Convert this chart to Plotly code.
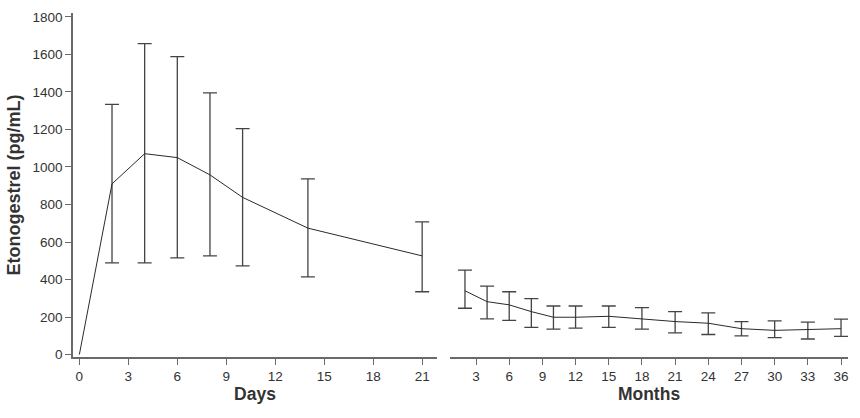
import plotly.graph_objects as go

# Days panel
days = [0, 2, 4, 6, 8, 10, 14, 21]
days_mean = [0, 910, 1071, 1050, 958, 838, 674, 526]
days_upper = [None, 1334, 1658, 1588, 1395, 1205, 937, 707]
days_lower = [None, 489, 489, 515, 526, 473, 414, 335]

# Months panel
months = [2, 4, 6, 8, 10, 12, 15, 18, 21, 24, 27, 30, 33, 36]
months_mean = [340, 282, 265, 229, 199, 199, 204, 190, 176, 167, 138, 129, 132, 138]
months_upper = [450, 365, 335, 298, 259, 259, 259, 250, 229, 222, 176, 180, 173, 189]
months_lower = [247, 190, 182, 145, 136, 141, 145, 136, 116, 107, 100, 90, 83, 97]

y_ticks = [0, 200, 400, 600, 800, 1000, 1200, 1400, 1600, 1800]
day_ticks = [0, 3, 6, 9, 12, 15, 18, 21]
month_ticks = [3, 6, 9, 12, 15, 18, 21, 24, 27, 30, 33, 36]

line_col = "#2a2a2a"
err_col = "#444444"
axis_col = "#6a6a6a"
text_col = "#333333"
font_family = "Liberation Sans, Arial, sans-serif"


def err_trace(xs, mean, up, lo, xaxis):
    pts = [(x, m, u, l) for x, m, u, l in zip(xs, mean, up, lo) if u is not None]
    return go.Scatter(
        x=[p[0] for p in pts], y=[p[1] for p in pts], mode="markers",
        marker=dict(size=1, color="rgba(0,0,0,0)"),
        error_y=dict(type="data", symmetric=False,
                     array=[p[2] - p[1] for p in pts],
                     arrayminus=[p[1] - p[3] for p in pts],
                     color=err_col, thickness=1.3, width=7),
        xaxis=xaxis, yaxis="y", showlegend=False, hoverinfo="skip")


fig = go.Figure()
fig.add_trace(err_trace(days, days_mean, days_upper, days_lower, "x"))
fig.add_trace(go.Scatter(x=days, y=days_mean, mode="lines",
                         line=dict(color=line_col, width=1),
                         xaxis="x", yaxis="y", showlegend=False))
fig.add_trace(err_trace(months, months_mean, months_upper, months_lower, "x2"))
fig.add_trace(go.Scatter(x=months, y=months_mean, mode="lines",
                         line=dict(color=line_col, width=1),
                         xaxis="x2", yaxis="y", showlegend=False))

common_x = dict(showgrid=False, zeroline=False, showline=True, linecolor=axis_col,
                linewidth=1.5, ticks="outside", ticklen=6, tickwidth=1.2,
                tickcolor=axis_col, tickfont=dict(size=13.5, color=text_col, family=font_family),
                title_font=dict(size=17.5, color=text_col, family=font_family),
                title_standoff=5)

fig.update_layout(
    width=860, height=418,
    margin=dict(l=73, r=12, t=10, b=61),
    paper_bgcolor="white", plot_bgcolor="white",
    font=dict(family=font_family, color=text_col),
    xaxis=dict(domain=[0, 0.4697], range=[-0.39, 21.91], tickvals=day_ticks,
               title_text="<b>Days</b>", anchor="y", **common_x),
    xaxis2=dict(domain=[0.4865, 1], range=[0.65, 36.63], tickvals=month_ticks,
                title_text="<b>Months</b>", anchor="y", **common_x),
    yaxis=dict(range=[-13, 1821], tickvals=y_ticks, showgrid=False, zeroline=False,
               showline=True, linecolor=axis_col, linewidth=1.5, ticks="outside",
               ticklen=6, tickwidth=1.2, tickcolor=axis_col,
               tickfont=dict(size=13.5, color=text_col, family=font_family),
               title_text="<b>Etonogestrel (pg/mL)</b>",
               title_font=dict(size=18, color=text_col, family=font_family),
               title_standoff=7, anchor="x"),
)

fig.write_html("out.html")
